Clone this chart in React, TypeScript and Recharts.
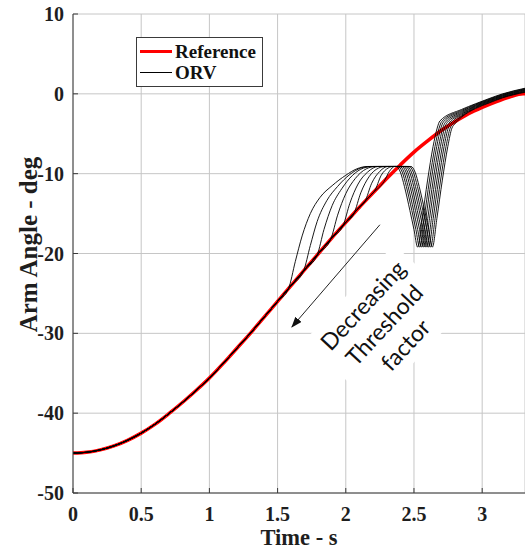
import {
  CartesianGrid,
  Legend,
  Line,
  LineChart,
  ReferenceLine,
  XAxis,
  YAxis,
} from "recharts";

const GRID = "#c6c6c6";
const AXIS = "#3a3a3a";
const TEXT = "#1e1e1e";
const SERIF = "'Liberation Serif', 'Times New Roman', serif";

// reference trajectory (s, deg)
const refTime = [
  0, 0.1, 0.2, 0.3, 0.4, 0.5, 0.6, 0.7, 0.8, 0.9, 1.0, 1.1, 1.2, 1.3, 1.4, 1.5, 1.6,
  1.7, 1.8, 1.9, 2.0, 2.1, 2.2, 2.3, 2.4, 2.5, 2.6, 2.7, 2.8, 2.9, 3.0, 3.1, 3.2, 3.3,
  3.314,
];
const refAngle = [
  -45.0, -44.9, -44.6, -44.1, -43.4, -42.5, -41.4, -40.1, -38.7, -37.2, -35.6, -33.8,
  -31.9, -30.0, -28.0, -26.0, -24.0, -22.0, -20.0, -18.0, -16.1, -14.2, -12.4, -10.6,
  -8.9, -7.3, -5.9, -4.6, -3.5, -2.5, -1.7, -1.0, -0.4, 0.0, 0.0,
];

// ORV runs, from the point where each one leaves the reference
const orvA = [
  [1.58, -24.4], [1.63, -21.0], [1.68, -17.8], [1.74, -15.0], [1.81, -13.0], [1.9, -11.5],
  [2.0, -10.2], [2.08, -9.4], [2.16, -9.1], [2.37, -9.1], [2.4, -9.8], [2.43, -11.6],
  [2.47, -14.6], [2.5, -17.0], [2.527, -19.2], [2.56, -15.6], [2.6, -10.8], [2.64, -6.6],
  [2.67, -4.3], [2.69, -3.4], [2.85, -1.95], [2.95, -1.25], [3.05, -0.6], [3.15, 0.0],
  [3.314, 0.7],
];
const orvB = [
  [1.69, -22.2], [1.74, -19.0], [1.79, -16.0], [1.86, -13.4], [1.94, -11.6], [2.03, -10.1],
  [2.11, -9.3], [2.18, -9.1], [2.384, -9.1], [2.414, -9.8], [2.444, -11.6], [2.484, -14.6],
  [2.514, -17.0], [2.541, -19.2], [2.574, -15.6], [2.614, -10.8], [2.654, -6.6],
  [2.684, -4.3], [2.704, -3.45], [2.85, -2.07], [2.95, -1.32], [3.05, -0.67],
  [3.15, -0.06], [3.314, 0.64],
];
const orvC = [
  [1.79, -20.2], [1.84, -17.0], [1.9, -14.0], [1.97, -11.9], [2.05, -10.2], [2.13, -9.3],
  [2.2, -9.1], [2.397, -9.1], [2.427, -9.8], [2.457, -11.6], [2.497, -14.6], [2.527, -17.0],
  [2.554, -19.2], [2.587, -15.6], [2.627, -10.8], [2.667, -6.6], [2.697, -4.3],
  [2.717, -3.5], [2.85, -2.19], [2.95, -1.4], [3.05, -0.74], [3.15, -0.13], [3.314, 0.57],
];
const orvD = [
  [1.89, -18.2], [1.94, -15.2], [2.0, -12.5], [2.07, -10.6], [2.15, -9.4], [2.22, -9.1],
  [2.411, -9.1], [2.441, -9.8], [2.471, -11.6], [2.511, -14.6], [2.541, -17.0],
  [2.568, -19.2], [2.601, -15.6], [2.641, -10.8], [2.681, -6.6], [2.711, -4.3],
  [2.731, -3.55], [2.85, -2.31], [2.95, -1.47], [3.05, -0.81], [3.15, -0.19], [3.314, 0.51],
];
const orvE = [
  [1.98, -16.5], [2.03, -13.7], [2.09, -11.3], [2.16, -9.8], [2.24, -9.1], [2.424, -9.1],
  [2.454, -9.8], [2.484, -11.6], [2.524, -14.6], [2.554, -17.0], [2.581, -19.2],
  [2.614, -15.6], [2.654, -10.8], [2.694, -6.6], [2.724, -4.3], [2.744, -3.6],
  [2.85, -2.43], [2.95, -1.55], [3.05, -0.88], [3.15, -0.25], [3.314, 0.45],
];
const orvF = [
  [2.06, -15.0], [2.11, -12.4], [2.17, -10.4], [2.24, -9.3], [2.29, -9.1], [2.438, -9.1],
  [2.468, -9.8], [2.498, -11.6], [2.538, -14.6], [2.568, -17.0], [2.595, -19.2],
  [2.628, -15.6], [2.668, -10.8], [2.708, -6.6], [2.738, -4.3], [2.758, -3.65],
  [2.85, -2.54], [2.95, -1.62], [3.05, -0.94], [3.15, -0.31], [3.314, 0.39],
];
const orvG = [
  [2.14, -13.5], [2.19, -11.2], [2.25, -9.7], [2.31, -9.1], [2.451, -9.1], [2.481, -9.8],
  [2.511, -11.6], [2.551, -14.6], [2.581, -17.0], [2.608, -19.2], [2.641, -15.6],
  [2.681, -10.8], [2.721, -6.6], [2.751, -4.3], [2.771, -3.7], [2.85, -2.66], [2.95, -1.7],
  [3.05, -1.01], [3.15, -0.38], [3.314, 0.32],
];
const orvH = [
  [2.21, -12.2], [2.26, -10.2], [2.31, -9.3], [2.35, -9.1], [2.465, -9.1], [2.495, -9.8],
  [2.525, -11.6], [2.565, -14.6], [2.595, -17.0], [2.622, -19.2], [2.655, -15.6],
  [2.695, -10.8], [2.735, -6.6], [2.765, -4.3], [2.785, -3.75], [2.85, -2.78],
  [2.95, -1.77], [3.05, -1.08], [3.15, -0.44], [3.314, 0.26],
];
const orvI = [
  [2.28, -11.0], [2.32, -9.7], [2.36, -9.1], [2.478, -9.1], [2.508, -9.8], [2.538, -11.6],
  [2.578, -14.6], [2.608, -17.0], [2.635, -19.2], [2.668, -15.6], [2.708, -10.8],
  [2.748, -6.6], [2.778, -4.3], [2.798, -3.8], [2.85, -2.9], [2.95, -1.85], [3.05, -1.15],
  [3.15, -0.5], [3.314, 0.2],
];

const xTicks = [0, 0.5, 1, 1.5, 2, 2.5, 3];
const yTicks = [-50, -40, -30, -20, -10, 0, 10];
const xDomain = [0, 3.314];
const yDomain = [-50, 10];
const legendOrder = ["Reference", "ORV"];

// annotation arrow (data units)
const arrowFrom = { x: 2.25, y: -16.4 };
const arrowTo = { x: 1.605, y: -29.2 };
const annotationLines = ["Decreasing", "Threshold", "factor"];

const refPoints = refTime.map((t, i) => ({ t, v: refAngle[i] }));
const orvSeries = [orvA, orvB, orvC, orvD, orvE, orvF, orvG, orvH, orvI].map((tail) => [
  ...refPoints.filter((p) => p.t < tail[0][0]),
  ...tail.map(([t, v]) => ({ t, v })),
]);

function XTick({ x, y, payload }: any) {
  return (
    <g>
      <line x1={x} x2={x} y1={y} y2={y - 5} stroke={AXIS} />
      <text
        x={x}
        y={y + 28}
        textAnchor="middle"
        fill={TEXT}
        style={{ fontFamily: SERIF, fontWeight: 700, fontSize: 20 }}
      >
        {payload.value}
      </text>
    </g>
  );
}

function TopTick({ x, y }: any) {
  return <line x1={x} x2={x} y1={y} y2={y + 5} stroke={AXIS} />;
}

function YTick({ x, y, payload }: any) {
  return (
    <g>
      <line x1={x} x2={x + 5} y1={y} y2={y} stroke={AXIS} />
      <text
        x={x - 9}
        y={y}
        dy="0.35em"
        textAnchor="end"
        fill={TEXT}
        style={{ fontFamily: SERIF, fontWeight: 700, fontSize: 20 }}
      >
        {payload.value}
      </text>
    </g>
  );
}

function YTitle({ viewBox }: any) {
  const cx = viewBox.x + 37;
  const cy = viewBox.y + viewBox.height / 2 - 9;
  return (
    <text
      x={cx}
      y={cy}
      textAnchor="middle"
      transform={`rotate(-90, ${cx}, ${cy})`}
      fill={TEXT}
      style={{ fontFamily: SERIF, fontWeight: 700, fontSize: 25 }}
    >
      Arm Angle - deg
    </text>
  );
}

function LegendBox({ payload }: any) {
  const items = (payload || [])
    .filter((p: any) => p.type !== "none")
    .sort((a: any, b: any) => legendOrder.indexOf(a.value) - legendOrder.indexOf(b.value));
  return (
    <div
      style={{
        border: `1px solid ${AXIS}`,
        background: "#fff",
        padding: "3px 5px 3px 3px",
        width: 117,
      }}
    >
      {items.map((p: any) => (
        <div key={p.value} style={{ display: "flex", alignItems: "center", height: 21 }}>
          <span
            style={{
              display: "inline-block",
              width: 32,
              height: p.color === "#ff0000" ? 3 : 1.5,
              background: p.color,
              marginRight: 3,
            }}
          />
          <span
            style={{
              fontFamily: SERIF,
              fontWeight: 700,
              fontSize: 19,
              color: "#111",
              lineHeight: "21px",
            }}
          >
            {p.value}
          </span>
        </div>
      ))}
    </div>
  );
}

export default function App() {
  return (
    <div
      style={{
        position: "absolute",
        left: 0,
        top: 0,
        width: 525,
        height: 552,
        overflow: "hidden",
        background: "#fff",
      }}
    >
      <LineChart width={525} height={552} margin={{ top: 14, right: 0, bottom: 0, left: 0 }}>
        <defs>
          <marker id="arrowhead" markerWidth="11" markerHeight="8" refX="10" refY="4" orient="auto" markerUnits="userSpaceOnUse">
            <path d="M0,0 L11,4 L0,8 z" fill="#111" />
          </marker>
        </defs>
        <CartesianGrid stroke={GRID} />
        <XAxis
          dataKey="t"
          type="number"
          domain={xDomain}
          ticks={xTicks}
          allowDataOverflow
          height={59}
          tickSize={0}
          tickMargin={0}
          tickLine={false}
          axisLine={{ stroke: AXIS }}
          tick={<XTick />}
          label={{
            value: "Time - s",
            position: "insideBottom",
            offset: 7,
            fill: TEXT,
            style: { fontFamily: SERIF, fontWeight: 700, fontSize: 22.5 },
          }}
        />
        <XAxis
          xAxisId="top"
          orientation="top"
          dataKey="t"
          type="number"
          domain={xDomain}
          ticks={xTicks}
          allowDataOverflow
          height={0}
          tickSize={0}
          tickMargin={0}
          tickLine={false}
          axisLine={{ stroke: AXIS }}
          tick={<TopTick />}
        />
        <YAxis
          type="number"
          domain={yDomain}
          ticks={yTicks}
          allowDataOverflow
          width={73}
          tickSize={0}
          tickMargin={0}
          tickLine={false}
          axisLine={{ stroke: AXIS }}
          tick={<YTick />}
          label={<YTitle />}
        />
        <Legend
          layout="vertical"
          align="center"
          verticalAlign="middle"
          content={<LegendBox />}
          wrapperStyle={{ left: 136, top: 37, width: "auto" }}
        />
        <ReferenceLine
          segment={[arrowFrom, arrowTo]}
          stroke="#222"
          strokeWidth={1}
          markerEnd="url(#arrowhead)"
        />
        <Line
          data={refPoints}
          dataKey="v"
          name="Reference"
          type="monotone"
          stroke="#ff0000"
          strokeWidth={3.5}
          dot={false}
          activeDot={false}
          isAnimationActive={false}
        />
        {orvSeries.map((pts, i) => (
          <Line
            key={i}
            data={pts}
            dataKey="v"
            name="ORV"
            type="monotone"
            stroke="#000000"
            strokeWidth={0.9}
            dot={false}
            activeDot={false}
            legendType={i === 0 ? "line" : "none"}
            isAnimationActive={false}
          />
        ))}
      </LineChart>
      <div
        style={{
          position: "absolute",
          left: 384,
          top: 325,
          transform: "translate(-50%, -50%) rotate(-47deg)",
          background: "#fff",
          padding: "4px 10px",
          textAlign: "center",
          fontFamily: "Lato, 'Open Sans', sans-serif",
          fontSize: 23,
          lineHeight: "29px",
          color: "#111",
          whiteSpace: "nowrap",
        }}
      >
        {annotationLines.map((l) => (
          <div key={l}>{l}</div>
        ))}
      </div>
    </div>
  );
}
